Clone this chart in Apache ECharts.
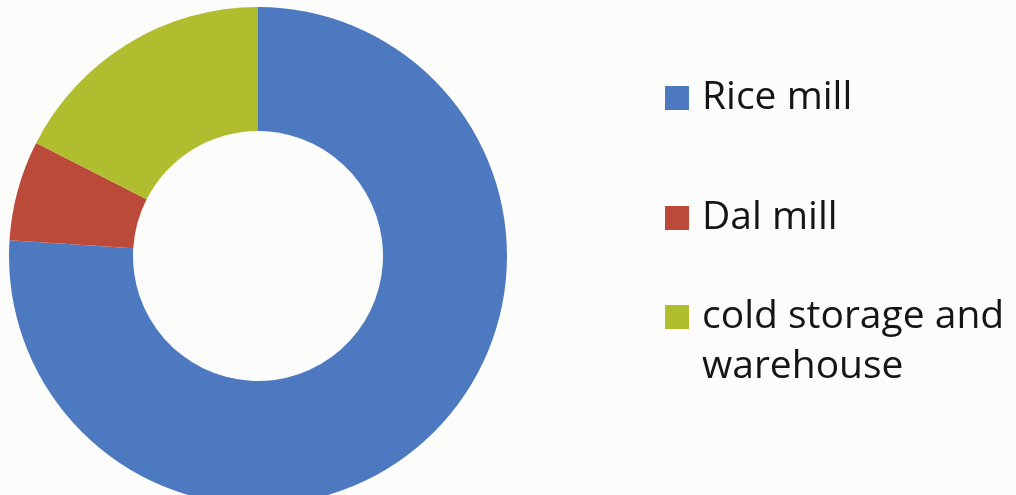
<!DOCTYPE html>
<html>
<head>
<meta charset="utf-8">
<script src="https://cdn.jsdelivr.net/npm/echarts@6/dist/echarts.min.js"></script>
<style>
html,body{margin:0;padding:0;background:#fcfcfb;}
#c{width:1016px;height:495px;}
</style>
</head>
<body>
<div id="c"></div>
<script>
const categories = ['Rice mill', 'Dal mill', 'cold storage and warehouse'];
const values = [76, 6.5, 17.5];
const colors = ['#4d79c0', '#bc4a3b', '#afbd2e'];

const chart = echarts.init(document.getElementById('c'));
const legendTops = [73, 193, 242];
const legends = categories.map((name, i) => ({
  data: [name],
  left: 665,
  top: legendTops[i],
  padding: 0,
  itemWidth: 24,
  itemHeight: 24,
  icon: 'rect',
  selectedMode: false,
  formatter: n => n === 'cold storage and warehouse' ? '\ncold storage and\nwarehouse' : n,
  textStyle: {
    fontFamily: 'Open Sans',
    fontSize: 39,
    color: '#151515',
    lineHeight: 50,
    padding: [0, 0, 0, 8]
  }
}));

chart.setOption({
  backgroundColor: '#fcfcfb',
  animation: false,
  color: colors,
  legend: legends,
  series: [{
    type: 'pie',
    center: [258, 256],
    radius: [125, 249],
    startAngle: 90,
    clockwise: true,
    label: { show: false },
    labelLine: { show: false },
    itemStyle: { borderWidth: 0 },
    emphasis: { disabled: true },
    data: categories.map((n, i) => ({ name: n, value: values[i] }))
  }]
});
</script>
</body>
</html>
